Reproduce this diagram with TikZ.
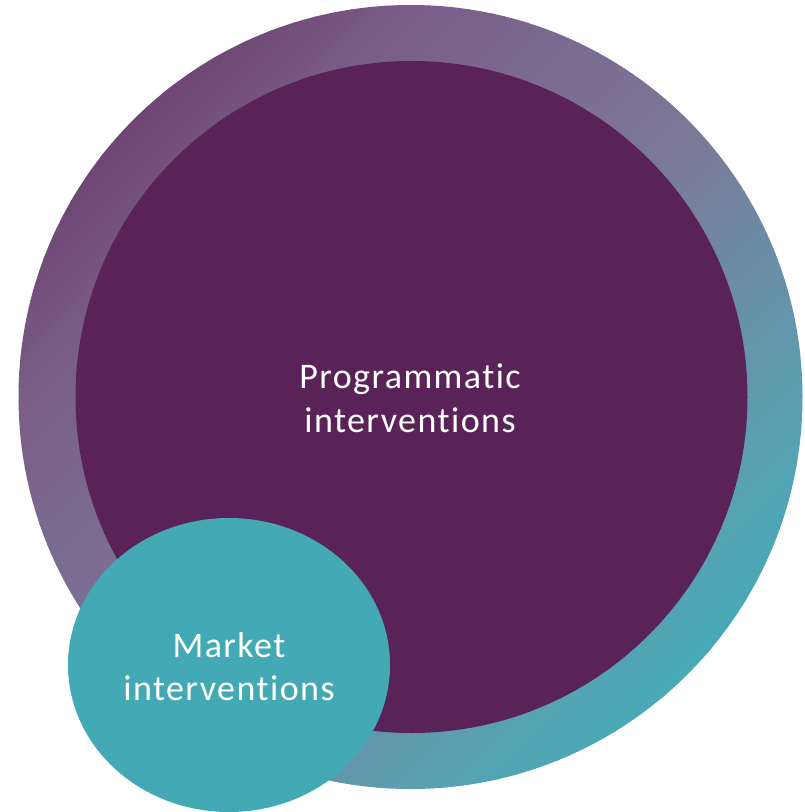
\documentclass[tikz,border=0pt]{standalone}
\usepackage{fontspec}
\usetikzlibrary{shapes.geometric}
\newfontfamily\lblfont[LetterSpace=4, Ligatures={NoCommon}]{Carlito}
\definecolor{g0}{HTML}{6E4371}
\definecolor{g15}{HTML}{7A5E88}
\definecolor{g50}{HTML}{7C7797}
\definecolor{g86}{HTML}{5BA0B2}
\definecolor{g100}{HTML}{46AAB6}
\definecolor{innerpurple}{HTML}{5A2358}
\definecolor{marketteal}{HTML}{43AAB5}
\newcommand\gradseg[5]{%
  \foreach \k in {1,...,#5}{%
    \pgfmathsetmacro\ta{#1+(#2-#1)*(\k-1)/#5}%
    \pgfmathsetmacro\tb{#1+(#2-#1)*\k/#5+0.8}%
    \pgfmathtruncatemacro\pc{100*(\k-0.5)/#5}%
    \fill[#4!\pc!#3] (\ta,-420) rectangle (\tb,420);%
  }%
}
\tikzset{
  lbl/.style={text=white, inner sep=0pt, anchor=base,
    font=\lblfont\fontsize{36}{44}\selectfont}
}
\begin{document}
\begin{tikzpicture}[x=1pt,y=-1pt]
\useasboundingbox (0,0) rectangle (805,812);
\clip (0,0) rectangle (805,812);
% outer gradient ring
\begin{scope}
  \clip (410.5,397) circle (392pt);
  \begin{scope}[shift={(410.5,397)}, rotate=-45]
    \gradseg{-400}{-274}{g0}{g15}{12}
    \gradseg{-274}{0}{g15}{g50}{27}
    \gradseg{0}{282}{g50}{g86}{28}
    \gradseg{282}{400}{g86}{g100}{12}
  \end{scope}
\end{scope}
% inner circle
\node (prog) [circle, fill=innerpurple, inner sep=0pt, minimum size=672pt] at (411.5,397) {};
% market ellipse
\node (mkt) [ellipse, fill=marketteal, inner sep=0pt, minimum width=322pt, minimum height=294pt] at (229,665) {};
% labels
\node (p1) [lbl] at (410,388) {Programmatic};
\node (p2) [lbl] at (410,432) {interventions};
\node (m1) [lbl] at (229,657) {Market};
\node (m2) [lbl] at (229,700) {interventions};
\end{tikzpicture}
\end{document}
